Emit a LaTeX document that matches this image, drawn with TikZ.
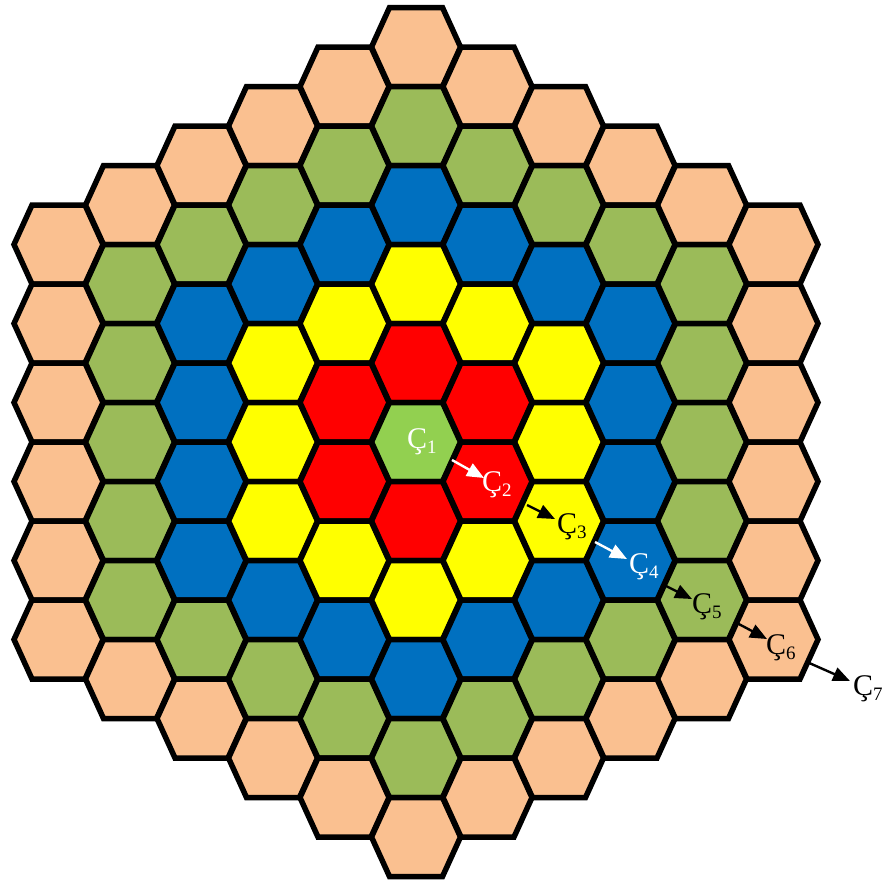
\documentclass[tikz,border=0pt]{standalone}
\usepackage{fontspec}
\setmainfont{Liberation Serif}
\usetikzlibrary{arrows.meta}
\definecolor{cpeach}{HTML}{FAC090}
\definecolor{cgreen}{HTML}{9BBB59}
\definecolor{cblue}{HTML}{0070C0}
\definecolor{cyellow}{HTML}{FFFF00}
\definecolor{cred}{HTML}{FF0000}
\definecolor{ccenter}{HTML}{92D050}
\newcommand{\csub}[1]{Ç\raisebox{-5pt}{\fontsize{19}{19}\selectfont #1}}
\begin{document}
\begin{tikzpicture}[x=1pt,y=-1pt,
  hexcell/.style={draw=black,line width=5.5pt,line join=miter},
  lbl/.style={anchor=base west,inner sep=0pt,font=\fontsize{30}{33}\selectfont},
  arr/.style={line width=2.4pt,-{Triangle[length=17pt,width=14pt]}}]
\useasboundingbox (0,0) rectangle (890,879);
\foreach \q in {-5,...,5}{
  \pgfmathtruncatemacro{\rlo}{max(-5,-\q-5)}
  \pgfmathtruncatemacro{\rhi}{min(5,-\q+5)}
  \foreach \r in {\rlo,...,\rhi}{
    \pgfmathtruncatemacro{\d}{max(abs(\q),abs(\r),abs(\q+\r))}
    \pgfmathsetmacro{\cx}{416+71.5*\q}
    \pgfmathsetmacro{\cy}{442+79*(\r+0.5*\q)}
    \ifcase\d \def\hc{ccenter}\or\def\hc{cred}\or\def\hc{cyellow}\or\def\hc{cblue}\or\def\hc{cgreen}\else\def\hc{cpeach}\fi
    \draw[hexcell,fill=\hc,shift={(\cx,\cy)}] (-44.5,0) -- (-26.5,-39.5) -- (26.5,-39.5) -- (44.5,0) -- (26.5,39.5) -- (-26.5,39.5) -- cycle;
  }
}
% labels
\node[lbl,text=white] (c1) at (407,448) {\csub{1}};
\node[lbl,text=white] (c2) at (482,491) {\csub{2}};
\node[lbl,text=black] (c3) at (557,533) {\csub{3}};
\node[lbl,text=white] (c4) at (629,573) {\csub{4}};
\node[lbl,text=black] (c5) at (692,613) {\csub{5}};
\node[lbl,text=black] (c6) at (766,654) {\csub{6}};
\node[lbl,text=black] (c7) at (853,695) {\csub{7}};
% arrow ends
\coordinate (t1) at (452,460); \coordinate (h1) at (484,478);
\coordinate (t2) at (527,505); \coordinate (h2) at (555,519);
\coordinate (t3) at (595,542); \coordinate (h3) at (627,559);
\coordinate (t4) at (664,585); \coordinate (h4) at (692,599);
\coordinate (t5) at (735,622); \coordinate (h5) at (767,639);
\coordinate (t6) at (807,662); \coordinate (h6) at (850,681);
\draw[arr,white] (t1) -- (h1);
\draw[arr,black] (t2) -- (h2);
\draw[arr,white] (t3) -- (h3);
\draw[arr,black] (t4) -- (h4);
\draw[arr,black] (t5) -- (h5);
\draw[arr,black] (t6) -- (h6);
\end{tikzpicture}
\end{document}
